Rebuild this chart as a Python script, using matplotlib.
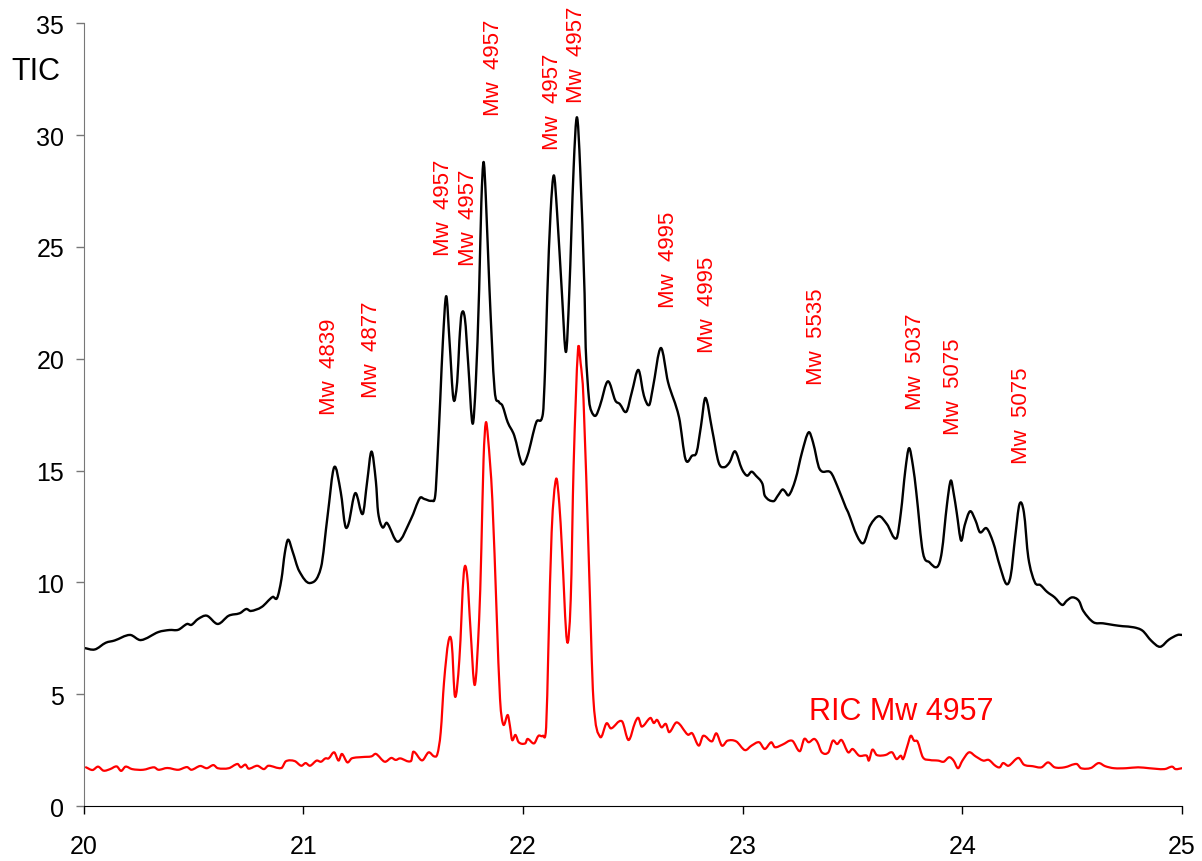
"""
TIC / RIC chromatogram (retention time 20-25 min).
"""
import matplotlib
matplotlib.use("Agg")
import matplotlib.pyplot as plt
from matplotlib.path import Path
from matplotlib.patches import PathPatch

# ---------------------------------------------------------------------------
# Data
# ---------------------------------------------------------------------------

# total ion current
tic_time = [
    20.00, 20.05, 20.10, 20.14, 20.21, 20.26, 20.34, 20.39, 20.43, 20.47,
    20.49, 20.52, 20.56, 20.61, 20.66, 20.71, 20.74, 20.76, 20.81, 20.86,
    20.88, 20.90, 20.915, 20.93, 20.95, 20.98, 21.03, 21.08, 21.11, 21.14,
    21.17, 21.19, 21.205, 21.236, 21.27, 21.29, 21.31, 21.33, 21.34, 21.36,
    21.38, 21.43, 21.49, 21.53, 21.55, 21.585, 21.60, 21.61, 21.623, 21.635,
    21.65, 21.665, 21.683, 21.70, 21.71, 21.72, 21.735, 21.75, 21.77, 21.785,
    21.80, 21.81, 21.82, 21.83, 21.847, 21.87, 21.89, 21.906, 21.93, 21.96,
    21.995, 22.02, 22.06, 22.09, 22.10, 22.11, 22.125, 22.14, 22.155, 22.177,
    22.195, 22.21, 22.23, 22.245, 22.26, 22.28, 22.285, 22.30, 22.31, 22.33,
    22.35, 22.386, 22.42, 22.44, 22.47, 22.495, 22.525, 22.55, 22.574, 22.59,
    22.627, 22.66, 22.71, 22.74, 22.77, 22.79, 22.81, 22.83, 22.86, 22.89,
    22.915, 22.94, 22.965, 22.996, 23.02, 23.04, 23.06, 23.09, 23.10, 23.14,
    23.16, 23.18, 23.19, 23.21, 23.24, 23.27, 23.30, 23.32, 23.35, 23.40,
    23.43, 23.47, 23.48, 23.52, 23.55, 23.58, 23.62, 23.656, 23.70, 23.72,
    23.74, 23.757, 23.775, 23.79, 23.82, 23.85, 23.886, 23.906, 23.93, 23.947,
    23.96, 23.974, 23.994, 24.01, 24.035, 24.06, 24.08, 24.11, 24.14, 24.17,
    24.20, 24.22, 24.24, 24.26, 24.28, 24.30, 24.33, 24.355, 24.385, 24.42,
    24.455, 24.475, 24.50, 24.53, 24.55, 24.596, 24.64, 24.69, 24.73, 24.78,
    24.82, 24.86, 24.90, 24.94, 24.98, 25.00,
]
tic_signal = [
    7.07, 7.00, 7.30, 7.40, 7.65, 7.42, 7.78, 7.87, 7.88, 8.14,
    8.10, 8.36, 8.51, 8.14, 8.51, 8.62, 8.81, 8.72, 8.90, 9.35,
    9.30, 10.15, 11.30, 11.91, 11.40, 10.52, 9.97, 10.67, 12.98, 15.15,
    14.03, 12.54, 12.61, 13.99, 13.06, 14.50, 15.85, 14.50, 13.13, 12.46,
    12.66, 11.82, 12.84, 13.77, 13.73, 13.65, 13.88, 15.50, 18.20, 20.80,
    22.80, 20.80, 18.20, 18.96, 20.80, 22.00, 21.80, 19.80, 17.10, 19.00,
    23.10, 27.00, 28.80, 27.30, 23.10, 18.65, 18.07, 17.90, 17.16, 16.56,
    15.30, 15.67, 17.16, 17.53, 19.50, 22.80, 26.50, 28.20, 26.50, 22.90,
    20.30, 22.90, 28.50, 30.80, 28.50, 22.90, 20.50, 18.20, 17.68, 17.45,
    17.90, 18.99, 18.13, 17.98, 17.63, 18.50, 19.50, 18.35, 17.93, 18.65,
    20.48, 18.95, 17.38, 15.49, 15.67, 15.82, 17.00, 18.25, 16.86, 15.37,
    15.15, 15.37, 15.86, 15.07, 14.77, 14.95, 14.77, 14.40, 13.88, 13.63,
    13.88, 14.15, 14.10, 13.90, 14.60, 15.82, 16.71, 16.26, 15.07, 14.92,
    14.32, 13.33, 13.13, 12.09, 11.76, 12.54, 12.96, 12.61, 11.97, 13.13,
    15.00, 16.00, 15.20, 14.04, 11.35, 10.90, 10.70, 11.35, 13.50, 14.55,
    14.00, 13.13, 11.87, 12.54, 13.18, 12.76, 12.24, 12.42, 11.79, 10.75,
    9.93, 10.30, 12.00, 13.50, 13.13, 11.12, 10.00, 9.88, 9.58, 9.33,
    8.99, 9.18, 9.33, 9.18, 8.73, 8.22, 8.17, 8.09, 8.04, 7.99,
    7.84, 7.39, 7.12, 7.44, 7.65, 7.65,
]

# reconstructed ion current, Mw 4957
ric_time = [
    20.01, 20.04, 20.065, 20.09, 20.12, 20.15, 20.17, 20.19, 20.22, 20.27,
    20.32, 20.34, 20.38, 20.43, 20.47, 20.49, 20.53, 20.56, 20.59, 20.61,
    20.66, 20.70, 20.715, 20.736, 20.75, 20.79, 20.82, 20.84, 20.90, 20.92,
    20.96, 20.99, 21.01, 21.03, 21.06, 21.08, 21.10, 21.115, 21.14, 21.16,
    21.175, 21.20, 21.22, 21.27, 21.31, 21.33, 21.37, 21.40, 21.42, 21.44,
    21.49, 21.50, 21.54, 21.57, 21.595, 21.61, 21.625, 21.64, 21.66, 21.675,
    21.69, 21.71, 21.73, 21.745, 21.76, 21.78, 21.80, 21.81, 21.82, 21.83,
    21.84, 21.86, 21.88, 21.895, 21.91, 21.93, 21.94, 21.95, 21.965, 21.98,
    22.01, 22.02, 22.05, 22.07, 22.09, 22.105, 22.115, 22.13, 22.15, 22.165,
    22.177, 22.20, 22.217, 22.23, 22.25, 22.262, 22.275, 22.30, 22.32, 22.35,
    22.38, 22.40, 22.45, 22.48, 22.51, 22.525, 22.54, 22.58, 22.595, 22.61,
    22.63, 22.65, 22.665, 22.70, 22.75, 22.77, 22.80, 22.82, 22.86, 22.88,
    22.905, 22.93, 22.97, 23.01, 23.04, 23.075, 23.10, 23.13, 23.146, 23.18,
    23.225, 23.26, 23.28, 23.30, 23.325, 23.34, 23.36, 23.39, 23.41, 23.43,
    23.45, 23.48, 23.50, 23.53, 23.565, 23.574, 23.59, 23.61, 23.65, 23.68,
    23.70, 23.72, 23.73, 23.75, 23.765, 23.78, 23.796, 23.82, 23.85, 23.89,
    23.915, 23.94, 23.96, 23.98, 24.00, 24.03, 24.06, 24.095, 24.12, 24.15,
    24.17, 24.185, 24.21, 24.255, 24.28, 24.32, 24.36, 24.39, 24.42, 24.465,
    24.52, 24.54, 24.585, 24.62, 24.65, 24.69, 24.745, 24.80, 24.85, 24.92,
    24.955, 24.97, 25.00,
]
ric_signal = [
    1.73, 1.61, 1.76, 1.58, 1.65, 1.77, 1.57, 1.76, 1.65, 1.62,
    1.73, 1.62, 1.70, 1.62, 1.74, 1.62, 1.79, 1.69, 1.83, 1.69,
    1.69, 1.88, 1.73, 1.85, 1.67, 1.80, 1.65, 1.80, 1.70, 2.00,
    2.01, 1.80, 1.92, 1.80, 2.03, 1.98, 2.13, 2.13, 2.40, 2.03,
    2.33, 1.95, 2.13, 2.19, 2.22, 2.33, 1.98, 2.15, 2.06, 2.13,
    2.01, 2.43, 2.04, 2.40, 2.22, 2.33, 3.30, 5.53, 7.35, 7.29,
    4.89, 6.57, 10.42, 10.34, 8.00, 5.41, 8.36, 11.50, 15.50, 17.13,
    16.50, 13.70, 8.50, 4.79, 3.64, 4.07, 3.59, 2.95, 3.18, 2.85,
    2.80, 3.00, 2.80, 3.14, 3.14, 3.52, 7.00, 12.24, 14.62, 13.50,
    11.50, 7.37, 9.26, 15.20, 20.40, 19.80, 18.20, 10.75, 4.79, 3.10,
    3.70, 3.47, 3.79, 2.95, 3.74, 3.94, 3.55, 3.94, 3.71, 3.85,
    3.52, 3.67, 3.30, 3.74, 3.19, 3.25, 2.70, 3.14, 2.89, 3.25,
    2.70, 2.92, 2.89, 2.50, 2.70, 2.85, 2.55, 2.85, 2.63, 2.74,
    2.92, 2.45, 3.00, 2.85, 3.00, 2.85, 2.40, 2.40, 2.92, 2.77,
    2.95, 2.40, 2.55, 2.25, 2.25, 2.03, 2.52, 2.28, 2.28, 2.40,
    2.10, 2.25, 2.10, 2.70, 3.14, 2.92, 2.88, 2.18, 2.06, 2.03,
    1.98, 2.18, 2.03, 1.69, 2.03, 2.40, 2.22, 2.03, 2.06, 1.80,
    1.73, 1.92, 1.80, 2.15, 1.85, 1.78, 1.73, 1.95, 1.73, 1.73,
    1.88, 1.69, 1.70, 1.92, 1.78, 1.69, 1.69, 1.73, 1.69, 1.65,
    1.76, 1.65, 1.69,
]

# peak labels: text, time of label centre, signal at label bottom
peak_labels = ["Mw  4839", "Mw  4877", "Mw  4957", "Mw  4957", "Mw  4957",
               "Mw  4957", "Mw  4957", "Mw  4995", "Mw  4995", "Mw  5535",
               "Mw  5037", "Mw  5075", "Mw  5075"]
label_time = [21.117, 21.309, 21.638, 21.752, 21.866, 22.135, 22.242,
              22.663, 22.840, 23.334, 23.787, 23.958, 24.267]
label_level = [17.53, 18.31, 24.66, 24.19, 30.88, 29.40, 31.48,
               22.32, 20.30, 18.87, 17.75, 16.64, 15.36]

x_ticks = [20, 21, 22, 23, 24, 25]
y_ticks = [0, 5, 10, 15, 20, 25, 30, 35]

# ---------------------------------------------------------------------------
# Helpers
# ---------------------------------------------------------------------------

def smooth_path(xs, ys):
    """Cubic Hermite path through the points (like a spreadsheet 'smoothed line')."""
    n = len(xs)
    slopes = []
    for i in range(n):
        a = max(i - 1, 0)
        b = min(i + 1, n - 1)
        slopes.append((ys[b] - ys[a]) / (xs[b] - xs[a]))
    verts = [(xs[0], ys[0])]
    codes = [Path.MOVETO]
    for i in range(n - 1):
        h = (xs[i + 1] - xs[i]) / 3.0
        verts += [(xs[i] + h, ys[i] + slopes[i] * h),
                  (xs[i + 1] - h, ys[i + 1] - slopes[i + 1] * h),
                  (xs[i + 1], ys[i + 1])]
        codes += [Path.CURVE4] * 3
    return Path(verts, codes)


def add_curve(ax, xs, ys, color, lw):
    patch = PathPatch(smooth_path(xs, ys), facecolor="none", edgecolor=color,
                      linewidth=lw, joinstyle="round", capstyle="round")
    ax.add_patch(patch)

# ---------------------------------------------------------------------------
# Plot
# ---------------------------------------------------------------------------

def main():
    plt.rcParams["font.family"] = ["Liberation Sans", "DejaVu Sans"]

    fig = plt.figure(figsize=(12.02, 8.62), dpi=100)
    ax = fig.add_axes([0.0697, 0.0638, 0.9137, 0.908])

    add_curve(ax, tic_time, tic_signal, "black", 1.7)
    add_curve(ax, ric_time, ric_signal, "#ff0000", 1.6)

    for txt, t, lvl in zip(peak_labels, label_time, label_level):
        ax.text(t, lvl, txt, rotation=90, ha="center", va="bottom",
                color="#ff0000", fontsize=16)

    ax.text(23.302, 3.89, "RIC Mw 4957", color="#ff0000", fontsize=22,
            ha="left", va="baseline")
    fig.text(35.5 / 1202, 1 - 72.5 / 862, "TIC", fontsize=22,
             ha="center", va="center")

    ax.set_xlim(20, 25)
    ax.set_ylim(0, 35)
    ax.set_xticks(x_ticks)
    ax.set_yticks(y_ticks)
    ax.tick_params(axis="both", direction="out", length=6, width=1,
                   labelsize=18)
    ax.tick_params(axis="y", pad=8, color="#777777")
    ax.tick_params(axis="x", pad=14, color="black")

    for side in ("top", "right"):
        ax.spines[side].set_visible(False)
    ax.spines["left"].set_color("#777777")
    ax.spines["bottom"].set_color("black")

    fig.savefig("out.png", dpi=100)
    plt.close(fig)


if __name__ == "__main__":
    main()
